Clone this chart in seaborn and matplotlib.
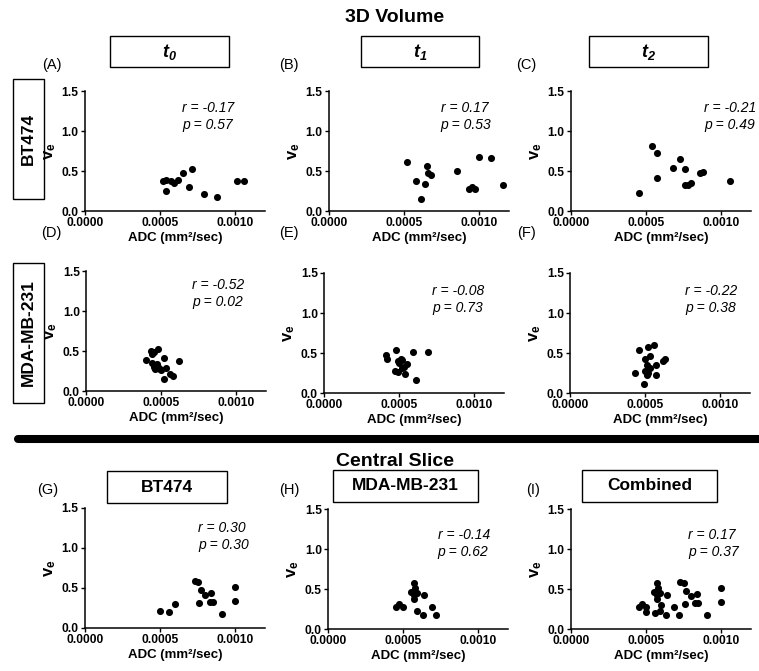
import matplotlib
matplotlib.use("Agg")
import matplotlib.pyplot as plt
import seaborn as sns
import pandas as pd
from matplotlib.patches import Rectangle
from matplotlib.lines import Line2D

# ---- data (ADC in mm^2/sec, ve) ----
A_adc = [0.00052, 0.00054, 0.00054, 0.00057, 0.00059, 0.00062, 0.00065, 0.00069, 0.00071, 0.00079, 0.00088, 0.00101, 0.00106]
A_ve = [0.38, 0.39, 0.25, 0.37, 0.35, 0.39, 0.48, 0.30, 0.53, 0.21, 0.18, 0.37, 0.38]

B_adc = [0.00052, 0.00058, 0.00061, 0.00064, 0.00065, 0.00066, 0.00068, 0.00085, 0.00093, 0.00095, 0.00097, 0.00100, 0.00108, 0.00116]
B_ve = [0.61, 0.38, 0.15, 0.34, 0.56, 0.47, 0.45, 0.50, 0.28, 0.30, 0.27, 0.68, 0.66, 0.33]

C_adc = [0.00045, 0.00054, 0.00057, 0.00057, 0.00068, 0.00073, 0.00076, 0.00076, 0.00078, 0.00080, 0.00086, 0.00088, 0.00106]
C_ve = [0.23, 0.81, 0.72, 0.41, 0.54, 0.65, 0.53, 0.33, 0.33, 0.35, 0.475, 0.49, 0.38]

D_adc = [0.00040, 0.00043, 0.00044, 0.00045, 0.00048, 0.00044, 0.00045, 0.00046, 0.00048, 0.00050, 0.00052, 0.00053,
         0.00052, 0.00056, 0.00058, 0.00062, 0.00047, 0.00049]
D_ve = [0.39, 0.50, 0.46, 0.49, 0.52, 0.35, 0.30, 0.27, 0.30, 0.26, 0.41, 0.29, 0.15, 0.21, 0.19, 0.38, 0.34, 0.27]

E_adc = [0.00041, 0.00042, 0.00048, 0.00047, 0.00049, 0.00049, 0.00051, 0.00050, 0.00052, 0.00053, 0.00055, 0.00054,
         0.00059, 0.00061, 0.00069, 0.00052]
E_ve = [0.48, 0.42, 0.54, 0.28, 0.26, 0.40, 0.42, 0.37, 0.41, 0.33, 0.36, 0.24, 0.51, 0.16, 0.51, 0.31]

F_adc = [0.00043, 0.00046, 0.00049, 0.00050, 0.00050, 0.00051, 0.00051, 0.00052, 0.00053, 0.00053, 0.00052, 0.00056,
         0.00057, 0.00057, 0.00062, 0.00063, 0.00051]
F_ve = [0.25, 0.54, 0.11, 0.27, 0.42, 0.22, 0.24, 0.58, 0.46, 0.31, 0.25, 0.60, 0.35, 0.23, 0.40, 0.42, 0.35]

G_adc = [0.00050, 0.00056, 0.00060, 0.00073, 0.00075, 0.00077, 0.00076, 0.00080, 0.00084, 0.00083, 0.00085, 0.00091, 0.00100, 0.00100]
G_ve = [0.21, 0.20, 0.30, 0.59, 0.57, 0.47, 0.31, 0.41, 0.44, 0.32, 0.33, 0.17, 0.51, 0.34]

H_adc = [0.00045, 0.00047, 0.00050, 0.00055, 0.00057, 0.00057, 0.00058, 0.00057, 0.00059, 0.00059, 0.00063, 0.00064, 0.00069, 0.00072]
H_ve = [0.28, 0.31, 0.27, 0.46, 0.43, 0.58, 0.51, 0.38, 0.45, 0.22, 0.18, 0.43, 0.27, 0.18]

# combined = both cell lines, central slice
I_adc = G_adc + H_adc
I_ve = G_ve + H_ve

panel_data = [(A_adc, A_ve), (B_adc, B_ve), (C_adc, C_ve),
              (D_adc, D_ve), (E_adc, E_ve), (F_adc, F_ve),
              (G_adc, G_ve), (H_adc, H_ve), (I_adc, I_ve)]
panel_letters = ["(A)", "(B)", "(C)", "(D)", "(E)", "(F)", "(G)", "(H)", "(I)"]
r_values = ["-0.17", "0.17", "-0.21", "-0.52", "-0.08", "-0.22", "0.30", "-0.14", "0.17"]
p_values = ["0.57", "0.53", "0.49", "0.02", "0.73", "0.38", "0.30", "0.62", "0.37"]
col_titles = [r"$\mathbfit{t_0}$", r"$\mathbfit{t_1}$", r"$\mathbfit{t_2}$"]
row_labels = ["BT474", "MDA-MB-231"]
slice_titles = ["BT474", "MDA-MB-231", "Combined"]

# ---- layout (pixels) ----
W, H = 759, 671
axes_px = [(85, 91), (329, 91), (571, 91),
           (86, 271), (324, 273), (570, 273),
           (85, 508), (328, 509), (571, 509)]
AX_W, AX_H = 180, 120
text_pos = [(0.54, 0.86), (0.62, 0.86), (0.74, 0.86),
            (0.59, 0.88), (0.60, 0.85), (0.64, 0.85),
            (0.63, 0.83), (0.61, 0.78), (0.65, 0.78)]
letter_px = [(52, 65), (289, 65), (526, 65),
             (51, 233), (289, 233), (526, 233),
             (48, 490), (289, 490), (533, 490)]

sns.set_style("ticks")
plt.rcParams["font.family"] = ["Liberation Sans", "DejaVu Sans"]
plt.rcParams["mathtext.fontset"] = "custom"
plt.rcParams["mathtext.rm"] = "Liberation Sans"
plt.rcParams["mathtext.it"] = "Liberation Sans:italic"
plt.rcParams["mathtext.bf"] = "Liberation Sans:bold"
plt.rcParams["mathtext.bfit"] = "Liberation Sans:bold:italic"
for key in ["text.color", "axes.labelcolor", "xtick.color", "ytick.color", "axes.edgecolor"]:
    plt.rcParams[key] = "black"

fig = plt.figure(figsize=(W / 100, H / 100), dpi=100)


def fx(x):
    return x / W


def fy(y):
    return 1 - y / H


def box(x0, y0, x1, y1):
    fig.add_artist(Rectangle((fx(x0), fy(y1)), fx(x1) - fx(x0), fy(y0) - fy(y1),
                             transform=fig.transFigure, fill=False, edgecolor="black", lw=1.0))


for i, (adc, ve) in enumerate(panel_data):
    x0, top = axes_px[i]
    ax = fig.add_axes([fx(x0), fy(top + AX_H), AX_W / W, AX_H / H])
    df = pd.DataFrame({"ADC": adc, "ve": ve})
    sns.scatterplot(data=df, x="ADC", y="ve", ax=ax, color="black", s=26, linewidth=0)
    ax.set_xlim(0, 0.0012)
    ax.set_ylim(0, 1.5)
    ax.set_xticks([0, 0.0005, 0.0010])
    ax.set_xticklabels(["0.0000", "0.0005", "0.0010"])
    ax.set_yticks([0, 0.5, 1.0, 1.5])
    ax.set_yticklabels(["0.0", "0.5", "1.0", "1.5"])
    ax.tick_params(direction="out", length=3, width=1, pad=1.5, labelsize=8.7)
    for lab in ax.get_xticklabels() + ax.get_yticklabels():
        lab.set_fontweight("bold")
    for sp in ["left", "bottom"]:
        ax.spines[sp].set_linewidth(1.1)
    sns.despine(ax=ax)
    ax.set_xlabel("ADC (mm²/sec)", fontsize=9.5, fontweight="bold", labelpad=2)
    ax.set_ylabel(r"$\mathbf{v_e}$", fontsize=12, labelpad=3)
    tx, ty = text_pos[i]
    ax.text(tx, ty, "r = " + r_values[i], transform=ax.transAxes, fontsize=10,
            fontstyle="italic", va="center", ha="left")
    ax.text(tx, ty - 0.14, "p = " + p_values[i], transform=ax.transAxes, fontsize=10,
            fontstyle="italic", va="center", ha="left")
    lx, ly = letter_px[i]
    fig.text(fx(lx), fy(ly), panel_letters[i], fontsize=10.5, ha="center", va="center")

# section titles
fig.text(fx(395), fy(18), "3D Volume", fontsize=14, fontweight="bold", ha="center", va="center")
fig.text(fx(395), fy(462), "Central Slice", fontsize=14, fontweight="bold", ha="center", va="center")

# column title boxes (3D volume)
col_boxes = [(110, 36, 229, 67), (361, 36, 479, 67), (589, 36, 708, 67)]
for (x0, y0, x1, y1), t in zip(col_boxes, col_titles):
    box(x0, y0, x1, y1)
    fig.text(fx((x0 + x1) / 2), fy((y0 + y1) / 2), t, fontsize=13, ha="center", va="center")

# row label boxes
row_boxes = [(13, 79, 44, 199), (13, 263, 44, 403)]
for (x0, y0, x1, y1), t in zip(row_boxes, row_labels):
    box(x0, y0, x1, y1)
    fig.text(fx((x0 + x1) / 2), fy((y0 + y1) / 2), t, fontsize=12.5, fontweight="bold",
             rotation=90, ha="center", va="center")

# central slice title boxes
slice_boxes = [(107, 471, 227, 503), (333, 470, 478, 502), (582, 470, 717, 502)]
for (x0, y0, x1, y1), t in zip(slice_boxes, slice_titles):
    box(x0, y0, x1, y1)
    fig.text(fx((x0 + x1) / 2), fy((y0 + y1) / 2), t, fontsize=12.5, fontweight="bold",
             ha="center", va="center")

# thick separator
fig.add_artist(Line2D([fx(18), fx(765)], [fy(439), fy(439)], transform=fig.transFigure,
                      color="black", lw=5.8, solid_capstyle="round"))

fig.savefig("out.png", dpi=100)
